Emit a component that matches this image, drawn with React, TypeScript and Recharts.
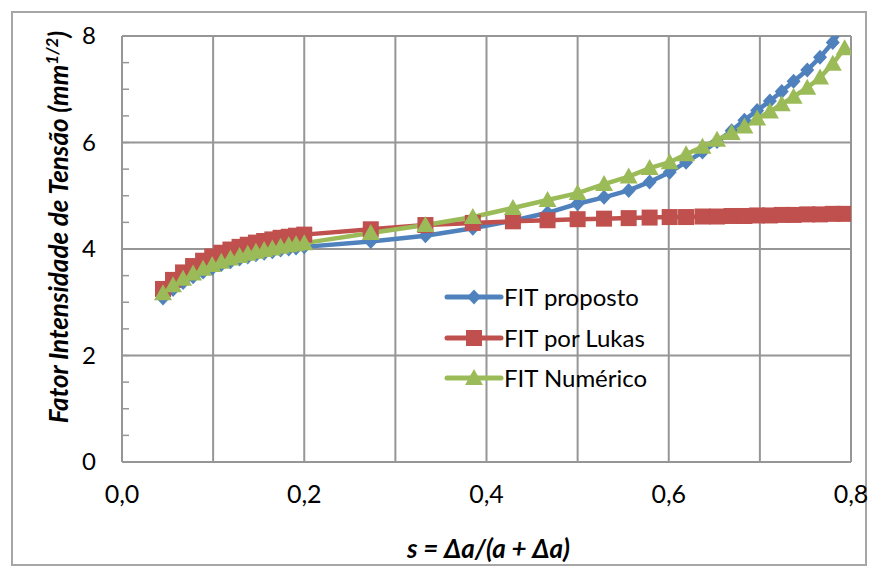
import React from "react";
import { LineChart, Line, XAxis, YAxis, CartesianGrid } from "recharts";

// s = Δa/(a + Δa)
const sValues = [
  0.045, 0.056, 0.067, 0.078, 0.089, 0.099, 0.109, 0.119, 0.129, 0.138, 0.147, 0.156, 0.165, 0.174, 0.183, 0.191, 0.2,
  0.273, 0.333, 0.385, 0.429, 0.467, 0.5, 0.529, 0.556, 0.579,
  0.601, 0.619, 0.637, 0.653, 0.669, 0.683, 0.697, 0.711, 0.724, 0.737, 0.752, 0.766, 0.78, 0.793,
];

const fitProposto = [
  3.08, 3.24, 3.37, 3.48, 3.57, 3.64, 3.71, 3.76, 3.81, 3.85, 3.89, 3.92, 3.95, 3.98, 4.0, 4.02, 4.04,
  4.14, 4.25, 4.39, 4.53, 4.68, 4.85, 4.97, 5.1, 5.26,
  5.44, 5.63, 5.82, 6.02, 6.22, 6.42, 6.6, 6.78, 6.96, 7.15, 7.36, 7.6, 7.88, 8.2,
];

const fitLukas = [
  3.25, 3.42, 3.56, 3.68, 3.78, 3.86, 3.93, 3.99, 4.04, 4.08, 4.12, 4.15, 4.18, 4.21, 4.23, 4.25, 4.27,
  4.37, 4.45, 4.49, 4.52, 4.54, 4.56, 4.57, 4.58, 4.59,
  4.6, 4.6, 4.61, 4.61, 4.62, 4.62, 4.63, 4.63, 4.64, 4.64, 4.65, 4.65, 4.66, 4.66,
];

const fitNumerico = [
  3.17, 3.32, 3.44, 3.54, 3.63, 3.7, 3.76, 3.82, 3.87, 3.91, 3.95, 3.98, 4.01, 4.04, 4.07, 4.09, 4.11,
  4.3, 4.45, 4.6, 4.77, 4.92, 5.05, 5.22, 5.36, 5.52,
  5.63, 5.78, 5.92, 6.05, 6.18, 6.3, 6.45, 6.58, 6.72, 6.86, 7.03, 7.22, 7.48, 7.77,
];

const xTicks = [0, 0.1, 0.2, 0.3, 0.4, 0.5, 0.6, 0.7, 0.8];
const yTicks = [0, 0.5, 1, 1.5, 2, 2.5, 3, 3.5, 4, 4.5, 5, 5.5, 6, 6.5, 7, 7.5, 8];

const data = sValues.map((s, i) => ({
  s,
  proposto: fitProposto[i],
  lukas: fitLukas[i],
  numerico: fitNumerico[i],
}));

const BLUE = "#4f81bd";
const RED = "#c0504d";
const GREEN = "#9bbb59";
const GRID = "#969696";
const FONT = "Lato, 'Open Sans', sans-serif";

const diamond = (cx: number, cy: number, c: string, key?: any) => (
  <path key={key} d={`M${cx},${cy - 7.5}L${cx + 7},${cy}L${cx},${cy + 7.5}L${cx - 7},${cy}Z`} fill={c} />
);
const square = (cx: number, cy: number, c: string, key?: any) => (
  <rect key={key} x={cx - 8} y={cy - 8} width={16} height={16} fill={c} />
);
const triangle = (cx: number, cy: number, c: string, key?: any) => (
  <path key={key} d={`M${cx},${cy - 9}L${cx + 9},${cy + 7}L${cx - 9},${cy + 7}Z`} fill={c} />
);

const series = [
  { key: "proposto", name: "FIT proposto", color: BLUE, mark: diamond },
  { key: "lukas", name: "FIT por Lukas", color: RED, mark: square },
  { key: "numerico", name: "FIT Numérico", color: GREEN, mark: triangle },
];

const XTick = (props: any) => {
  const { x, y, payload } = props;
  const v = payload.value;
  if (Math.round(v * 10) % 2 !== 0) return <g />;
  return (
    <text x={x} y={y + 41} textAnchor="middle" fontSize={25} fontFamily={FONT} fill="#000">
      {v.toFixed(1).replace(".", ",")}
    </text>
  );
};

const YTick = (props: any) => {
  const { x, y, payload } = props;
  const v = payload.value;
  return (
    <g>
      <line x1={x} x2={x + 7} y1={y} y2={y} stroke={GRID} strokeWidth={1.5} />
      {v % 2 === 0 && (
        <text x={x - 26} y={y + 8} textAnchor="end" fontSize={24} fontFamily={FONT} fill="#000">
          {v}
        </text>
      )}
    </g>
  );
};

const YLabel = (props: any) => {
  const vb = props.viewBox;
  const cx = 68;
  const cy = vb.y + vb.height / 2 - 22;
  return (
    <text
      x={cx}
      y={cy}
      transform={`rotate(-90 ${cx} ${cy})`}
      textAnchor="middle"
      fontSize={26}
      fontWeight="bold"
      fontStyle="italic"
      fontFamily={FONT}
      fill="#000"
    >
      Fator Intensidade de Tensão (mm
      <tspan dy={-10} fontSize={17}>1/2</tspan>
      <tspan dy={10}>)</tspan>
    </text>
  );
};

const XLabel = (props: any) => {
  const vb = props.viewBox;
  return (
    <text
      x={vb.x + vb.width / 2 + 2}
      y={vb.y + 96}
      textAnchor="middle"
      fontSize={26}
      fontWeight="bold"
      fontStyle="italic"
      fontFamily={FONT}
      fill="#000"
    >
      s = Δa/(a + Δa)
    </text>
  );
};

const LegendBox = () => (
  <div
    style={{
      position: "absolute",
      left: 444,
      top: 277,
      fontFamily: FONT,
      fontSize: 24,
      color: "#000",
    }}
  >
    {series.map((s) => (
      <div key={s.key} style={{ display: "flex", alignItems: "center", height: 40.5 }}>
        <svg width={60} height={24} style={{ display: "block" }}>
          <line x1={3} x2={57} y1={12} y2={12} stroke={s.color} strokeWidth={5} strokeLinecap="round" />
          {s.mark(30, 12, s.color)}
        </svg>
        <span style={{ lineHeight: "24px", whiteSpace: "nowrap" }}>{s.name}</span>
      </div>
    ))}
  </div>
);

export default function App() {
  return (
    <div style={{ position: "absolute", left: 0, top: 0, width: 879, height: 577, background: "#fff" }}>
      <div
        style={{
          position: "absolute",
          left: 11,
          top: 11,
          width: 856,
          height: 555,
          border: "2px solid #a6a6a6",
          boxSizing: "border-box",
        }}
      />
      <LineChart
        width={879}
        height={577}
        data={data}
        margin={{ top: 36, right: 28, left: 0, bottom: 0 }}
        style={{ position: "absolute", left: 0, top: 0 }}
      >
        <CartesianGrid stroke={GRID} strokeWidth={2} verticalValues={xTicks} horizontalValues={[2, 4, 6, 8]} />
        <XAxis
          dataKey="s"
          type="number"
          domain={[0, 0.8]}
          ticks={xTicks}
          allowDataOverflow
          height={115}
          tickSize={0}
          tickMargin={0}
          tick={<XTick />}
          axisLine={{ stroke: GRID, strokeWidth: 2 }}
          tickLine={false}
          interval={0}
          label={<XLabel />}
        />
        <YAxis
          type="number"
          domain={[0, 8]}
          ticks={yTicks}
          allowDataOverflow
          width={122}
          tickSize={0}
          tickMargin={0}
          tick={<YTick />}
          axisLine={{ stroke: GRID, strokeWidth: 2 }}
          tickLine={false}
          interval={0}
          label={<YLabel />}
        />
        {series.map((s) => (
          <Line
            key={s.key}
            dataKey={s.key}
            name={s.name}
            stroke={s.color}
            strokeWidth={4.5}
            isAnimationActive={false}
            dot={(p: any) => s.mark(p.cx, p.cy, s.color, p.index)}
            activeDot={false}
          />
        ))}
      </LineChart>
      <LegendBox />
    </div>
  );
}
